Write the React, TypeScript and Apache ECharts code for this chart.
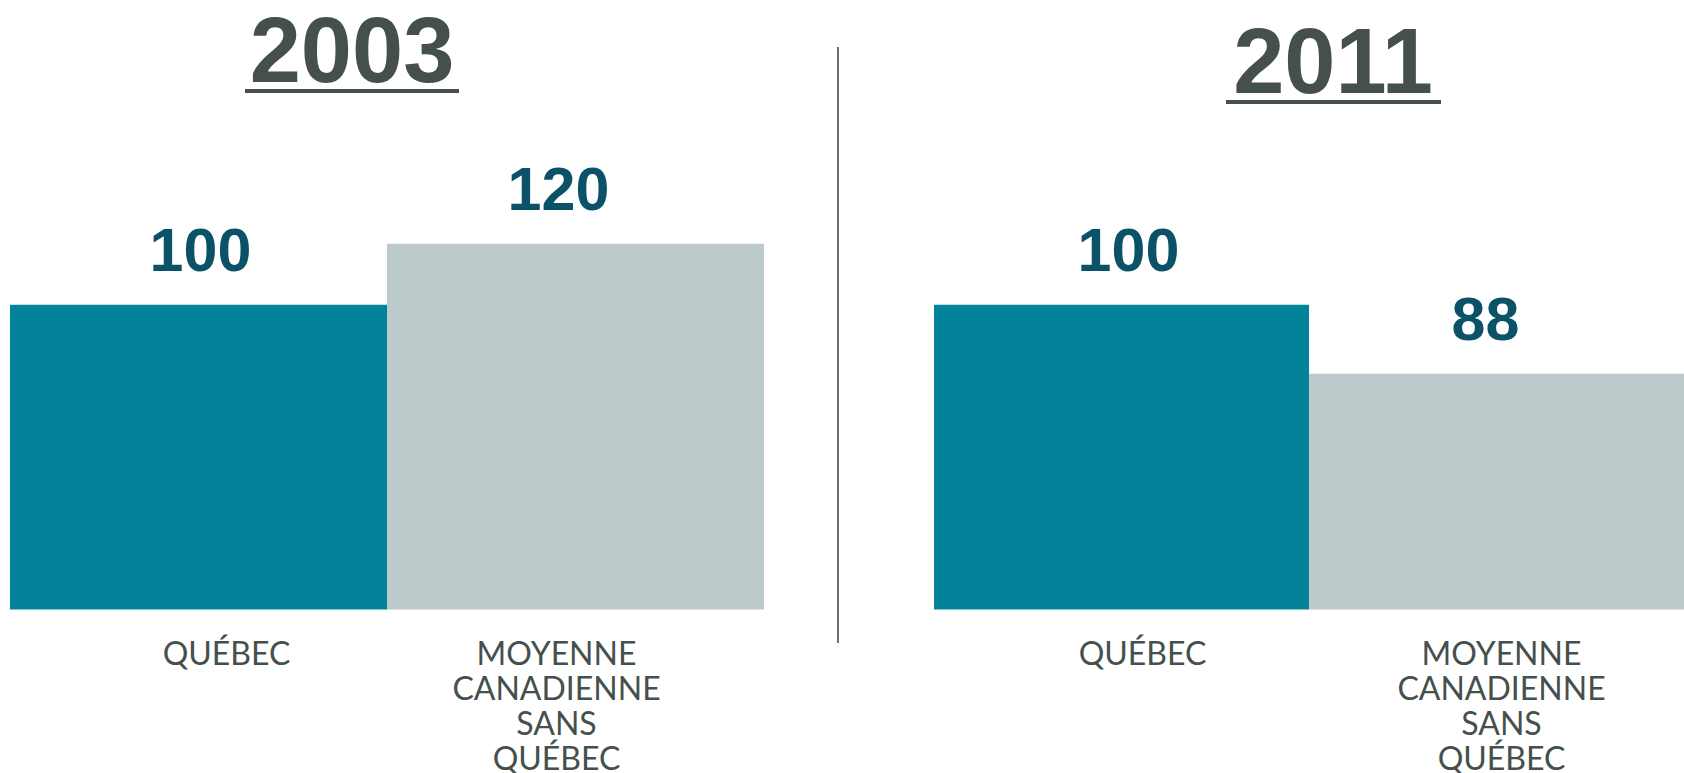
import React, { useEffect, useRef } from "react";
import * as echarts from "echarts";

// ---- data ----
const categories = ["QUÉBEC", "MOYENNE\nCANADIENNE\nSANS\nQUÉBEC"];
const years = ["2003", "2011"];
const values2003 = [100, 120];
const values2011 = [100, 88];
const barColors = ["#028399", "#bccacb"];

const TITLE_COLOR = "#45504d";
const VALUE_COLOR = "#0b5268";

// small label shifts (layout only)
const catLabelShift2003 = [28, -19];
const catLabelShift2011 = [21, 5];
const valueLabelShift2003 = [2, -17];
const valueLabelShift2011 = [7, -11];

function makeBars(values: number[], valueShift: number[], gridIndex: number) {
  return {
    type: "bar",
    xAxisIndex: gridIndex,
    yAxisIndex: gridIndex,
    barCategoryGap: "0%",
    data: values.map((v, i) => ({
      value: v,
      itemStyle: { color: barColors[i] },
      label: { offset: [valueShift[i], 0] },
    })),
    label: {
      show: true,
      position: "top",
      distance: 24,
      color: VALUE_COLOR,
      fontFamily: "Liberation Sans, Arial, sans-serif",
      fontWeight: "bold",
      fontSize: 61,
    },
  };
}

function makeXAxis(gridIndex: number, shifts: number[]) {
  return {
    type: "category",
    gridIndex,
    data: categories,
    axisLine: { show: false },
    axisTick: { show: false },
    axisLabel: {
      interval: 0,
      margin: 25,
      formatter: (val: string, idx: number) =>
        val
          .split("\n")
          .map((l) => `{s${idx}|${l}}`)
          .join("\n"),
      rich: {
        s0: {
          fontFamily: "Lato, sans-serif",
          fontSize: 32,
          lineHeight: 35,
          color: TITLE_COLOR,
          padding: shifts[0] >= 0 ? [0, 0, 0, shifts[0] * 2] : [0, -shifts[0] * 2, 0, 0],
        },
        s1: {
          fontFamily: "Lato, sans-serif",
          fontSize: 32,
          lineHeight: 35,
          color: TITLE_COLOR,
          padding: shifts[1] >= 0 ? [0, 0, 0, shifts[1] * 2] : [0, -shifts[1] * 2, 0, 0],
        },
      },
    },
  };
}

export default function App() {
  const ref = useRef<HTMLDivElement>(null);
  useEffect(() => {
    if (!ref.current) return;
    const chart = echarts.init(ref.current, undefined, { renderer: "svg" });
    chart.setOption({
      animation: false,
      backgroundColor: "#ffffff",
      grid: [
        { left: 10, top: 0, width: 754, height: 612 },
        { left: 934, top: 0, width: 754, height: 611 },
      ],
      xAxis: [makeXAxis(0, catLabelShift2003), makeXAxis(1, catLabelShift2011)],
      yAxis: [
        { type: "value", gridIndex: 0, min: 0, max: 200, show: false },
        { type: "value", gridIndex: 1, min: 47, max: 153, show: false },
      ],
      series: [
        makeBars(values2003, valueLabelShift2003, 0),
        makeBars(values2011, valueLabelShift2011, 1),
      ],
      graphic: [
        {
          type: "text",
          x: 352,
          y: 50,
          style: {
            text: years[0],
            fill: TITLE_COLOR,
            font: "bold 92px 'Liberation Sans', Arial, sans-serif",
            textAlign: "center",
            textVerticalAlign: "middle",
          },
        },
        {
          type: "rect",
          shape: { x: 245, y: 89, width: 214, height: 4 },
          style: { fill: TITLE_COLOR },
        },
        {
          type: "text",
          x: 1333,
          y: 61,
          style: {
            text: years[1],
            fill: TITLE_COLOR,
            font: "bold 92px 'Liberation Sans', Arial, sans-serif",
            textAlign: "center",
            textVerticalAlign: "middle",
          },
        },
        {
          type: "rect",
          shape: { x: 1226, y: 100, width: 215, height: 4 },
          style: { fill: TITLE_COLOR },
        },
        {
          type: "line",
          shape: { x1: 838, y1: 47, x2: 838, y2: 643 },
          style: { stroke: "#6d6d6d", lineWidth: 2 },
        },
      ],
    });
    return () => chart.dispose();
  }, []);
  return (
    <div
      ref={ref}
      style={{ position: "absolute", left: 0, top: 0, width: 1684, height: 773 }}
    />
  );
}
